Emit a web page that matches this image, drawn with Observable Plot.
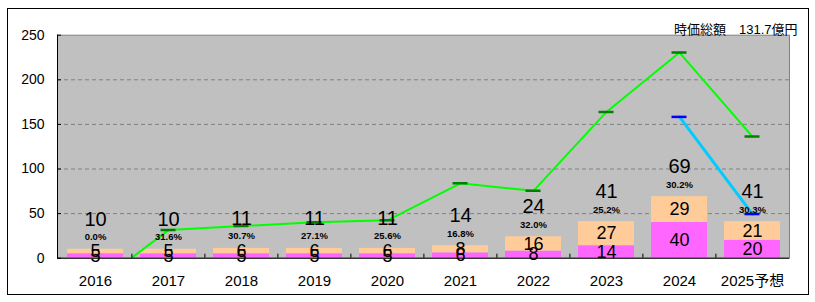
<!DOCTYPE html>
<html>
<head>
<meta charset="utf-8">
<script src="https://cdn.jsdelivr.net/npm/d3@7"></script>
<script src="https://cdn.jsdelivr.net/npm/@observablehq/plot@0.6"></script>
<style>
  html, body { margin: 0; padding: 0; background: #fff; }
  #wrap { position: relative; width: 815px; height: 302px; }
  #border { position: absolute; left: 7px; top: 8px; width: 800px; height: 285px; border: 1.5px solid #000; pointer-events: none; }
</style>
</head>
<body>
<div id="wrap"><div id="border"></div></div>
<script>
const years = ["2016", "2017", "2018", "2019", "2020", "2021", "2022", "2023", "2024", "2025予想"];
const pinkValues = [5, 5, 5, 5, 5, 6, 8, 14, 40, 20];
const peachValues = [5, 5, 6, 6, 6, 8, 16, 27, 29, 21];
const totals = [10, 10, 11, 11, 11, 14, 24, 41, 69, 41];
const pctLabels = ["0.0%", "31.6%", "30.7%", "27.1%", "25.6%", "16.8%", "32.0%", "25.2%", "30.2%", "30.3%"];
const marketCap = [-30, 31.5, 36, 40.2, 42.5, 84, 75.5, 164, 230.5, 136.3];
const forecastYears = ["2024", "2025予想"];
const forecastValues = [158.4, 49.5];
const yTicks = [0, 50, 100, 150, 200, 250];
const gridTicks = [50, 100, 150, 200];
const title = "時価総額　131.7億円";

const stacked = [];
years.forEach((y, i) => {
  stacked.push({year: y, series: "pink", value: pinkValues[i]});
  stacked.push({year: y, series: "peach", value: peachValues[i]});
});
const totalsData = years.map((y, i) => ({year: y, total: totals[i], pct: pctLabels[i]}));
const capData = years.map((y, i) => ({year: y, v: marketCap[i]}));
const fcData = forecastYears.map((y, i) => ({year: y, v: forecastValues[i]}));

const chart = Plot.plot({
  width: 815,
  height: 302,
  marginLeft: 57,
  marginRight: 26,
  marginTop: 34.7,
  marginBottom: 44.3,
  style: {background: "transparent", fontFamily: "'Liberation Sans', Arial, 'Noto Sans CJK JP', sans-serif", color: "#000"},
  x: {domain: years, paddingInner: 0.235, paddingOuter: 0.1175, label: null},
  y: {domain: [0, 250], label: null},
  color: {domain: ["pink", "peach"], range: ["#ff66ff", "#ffcc99"]},
  marks: [
    Plot.frame({fill: "#c0c0c0", stroke: "#808080"}),
    Plot.gridY(gridTicks, {stroke: "#808080", strokeOpacity: 1, strokeDasharray: "4,3"}),
    Plot.barY(stacked, {x: "year", y: "value", fill: "series", order: null}),
    Plot.text(stacked, Plot.stackY({x: "year", y: "value", text: "value", fontSize: 18, fill: "#000", order: null})),
    Plot.line(capData, {x: "year", y: "v", stroke: "#00ff00", strokeWidth: 2, clip: true}),
    Plot.tickY(capData, {x: "year", y: "v", stroke: "#007f00", strokeWidth: 2.5, insetLeft: 20.5, insetRight: 20.5, clip: true}),
    Plot.line(fcData, {x: "year", y: "v", stroke: "#00ccff", strokeWidth: 3}),
    Plot.tickY(fcData, {x: "year", y: "v", stroke: "#0000ff", strokeWidth: 2.5, insetLeft: 20.5, insetRight: 20.5}),
    Plot.text(totalsData, {x: "year", y: "total", text: d => String(d.total), dy: -30, fontSize: 20, fill: "#000"}),
    Plot.text(totalsData, {x: "year", y: "total", text: "pct", dy: -12, fontSize: 9.5, fontWeight: "bold", fill: "#000"}),
    Plot.ruleY([0], {stroke: "#000"}),
    Plot.frame({anchor: "left", stroke: "#000"}),
    Plot.ruleX(years.slice(1), {x: d => d, y1: 0, y2: 4.5, dx: -36.6, stroke: "#000"}),
    Plot.axisY(yTicks, {tickSize: -4, tickPadding: 17, fontSize: 14}),
    Plot.axisX({tickSize: 0, tickPadding: 17, fontSize: 15}),
    Plot.text([title], {frameAnchor: "top-right", textAnchor: "end", dx: 8, dy: -10.5, fontSize: 13, fill: "#000"})
  ]
});
document.getElementById("wrap").prepend(chart);
</script>
</body>
</html>
